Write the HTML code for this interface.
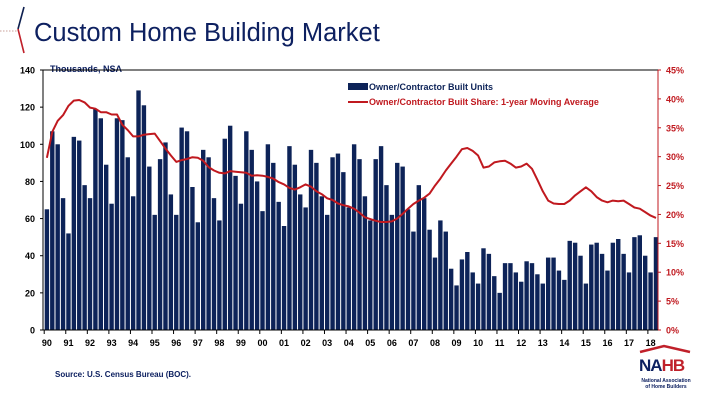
<!DOCTYPE html>
<html><head><meta charset="utf-8"><style>
html,body{margin:0;padding:0;background:#fff;}
svg{display:block;font-family:"Liberation Sans",Arial,sans-serif;}
</style></head><body>
<svg id="c" width="720" height="405" viewBox="0 0 720 405">
<line x1="0" y1="31" x2="17" y2="31" stroke="#c9a09a" stroke-dasharray="1.5,1.5"/>
<polyline points="24,7 18,29" stroke="#0d1f4f" stroke-width="1.6" fill="none"/>
<polyline points="18,29 24,53" stroke="#c0202a" stroke-width="1.6" fill="none"/>
<text x="34" y="41" font-family="'Liberation Sans',sans-serif" font-size="25.5" fill="#0d2060">Custom Home Building Market</text>
<text x="50" y="72" font-size="9" font-weight="bold" fill="#0d2060">Thousands, NSA</text>
<text x="55" y="377" font-size="8" font-weight="bold" fill="#0d2060">Source: U.S. Census Bureau (BOC).</text>
<g id="plot"></g>
<g>
<rect x="348" y="83" width="20" height="7" fill="#0d2358"/>
<text x="369" y="90" font-size="9" font-weight="bold" fill="#0d2358">Owner/Contractor Built Units</text>
<line x1="348" y1="102" x2="368" y2="102" stroke="#c0191f" stroke-width="2"/>
<text x="369" y="105" font-size="9" font-weight="bold" fill="#c0191f">Owner/Contractor Built Share: 1-year Moving Average</text>
</g>
<g>
<polyline points="640,352 664,346 690,352" stroke="#c0202a" stroke-width="2.5" fill="none"/>
<text x="639" y="371" font-size="17" font-weight="bold" fill="#0d2060" letter-spacing="-1">NA<tspan fill="#c0202a">HB</tspan></text>
<text x="666" y="382" font-size="5" font-weight="bold" fill="#0d2060" text-anchor="middle">National Association</text>
<text x="666" y="388" font-size="5" font-weight="bold" fill="#0d2060" text-anchor="middle">of Home Builders</text>
</g>
</svg>
<script>
const units = [65,107,100,71, 52,104,102,78, 71,119,114,89, 68,114,113,93, 72,129,121,88, 62,92,101,73, 62,109,107,77, 58,97,93,71, 59,103,110,83, 68,107,97,80, 64,100,90,69, 56,99,89,73, 66,97,90,72, 62,93,95,85, 66,100,92,72, 59,92,99,78, 62,90,88,65, 53,78,71,54, 39,59,53,33, 24,38,42,31, 25,44,41,29, 20,36,36,31, 26,37,36,30, 25,39,39,32, 27,48,47,40, 25,46,47,41, 32,47,49,41, 31,50,51,40, 31,50];
const share = [29.8,34.3,36.2,37.2, 38.8,39.7,39.8,39.4, 38.5,38.3,37.7,37.7, 37.3,37.3,35.5,34.6, 33.5,33.5,33.8,33.9, 34.0,32.7,31.4,30.2, 29.1,29.4,29.6,29.9, 29.8,29.3,28.2,27.6, 27.2,27.1,27.5,27.4, 27.3,27.2,26.7,26.8, 26.7,26.5,26.2,25.6, 25.2,24.6,24.3,24.7, 25.2,24.8,24.0,23.5, 22.8,22.5,21.9,21.6, 21.4,21.0,20.3,19.5, 19.2,18.9,18.7,18.7, 18.8,19.3,20.1,21.0, 21.8,22.4,22.9,23.6, 25.0,26.2,27.6,28.8, 30.0,31.3,31.5,31.0, 30.2,28.1,28.3,29.0, 29.2,29.3,28.8,28.1, 28.3,28.8,27.9,26.0, 24.0,22.4,21.9,21.8, 21.8,22.4,23.3,24.0, 24.7,24.0,23.0,22.4, 22.1,22.4,22.3,22.4, 21.8,21.2,21.0,20.4, 19.8,19.4];
const yTicks = [0,20,40,60,80,100,120,140];
const pctTicks = [0,5,10,15,20,25,30,35,40,45];
const yearLabels = ["90","91","92","93","94","95","96","97","98","99","00","01","02","03","04","05","06","07","08","09","10","11","12","13","14","15","16","17","18"];

const NS="http://www.w3.org/2000/svg";
const g=document.getElementById('plot');
const L=43,R=658,T=70,B=330;
const x0=46.9, step=5.39;
function X(i){return x0+i*step;}
function Y(v){return B-(v/140)*(B-T);}
function Y2(p){return B-(p/45)*(B-T);}
function mk(t,a){const e=document.createElementNS(NS,t);for(const k in a)e.setAttribute(k,a[k]);g.appendChild(e);return e;}

units.forEach((v,i)=>{
  const r=mk('rect',{x:X(i)-2.2,y:Y(v),width:4.4,height:B-Y(v),fill:'#0d2358'});
  
  
});
const pts=share.map((p,i)=>X(i).toFixed(1)+','+Y2(p).toFixed(1)).join(' ');
const pl=mk('polyline',{points:pts,fill:'none',stroke:'#c0191f','stroke-width':2,'stroke-linejoin':'round'});



let a=mk('line',{x1:L,y1:T,x2:R,y2:T,stroke:'#000','stroke-width':1});


a=mk('line',{x1:L,y1:T,x2:L,y2:B,stroke:'#000','stroke-width':1});


a=mk('line',{x1:R,y1:T,x2:R,y2:B,stroke:'#c0191f','stroke-width':1});


a=mk('line',{x1:L,y1:B,x2:R,y2:B,stroke:'#000','stroke-width':1});



yTicks.forEach(v=>{
  const t=mk('text',{x:35,y:Y(v)+3.5,'font-size':9,'font-weight':'bold','text-anchor':'end',fill:'#000'});
  t.textContent=v;
  
  
  mk('line',{x1:L-3,y1:Y(v),x2:L,y2:Y(v),stroke:'#000'});
});
pctTicks.forEach(p=>{
  const t=mk('text',{x:666,y:Y2(p)+3.5,'font-size':9,'font-weight':'bold',fill:'#c0191f'});
  t.textContent=p+'%';
  
  
  mk('line',{x1:R,y1:Y2(p),x2:R+3,y2:Y2(p),stroke:'#c0191f'});
});
yearLabels.forEach((s,k)=>{
  const i=k*4;
  const t=mk('text',{x:X(i),y:346,'font-size':9,'font-weight':'bold','text-anchor':'middle',fill:'#000'});
  t.textContent=s;
  
  
  mk('line',{x1:X(i)-2.7,y1:B,x2:X(i)-2.7,y2:B+4,stroke:'#000'});
});
</script>
</body></html>
